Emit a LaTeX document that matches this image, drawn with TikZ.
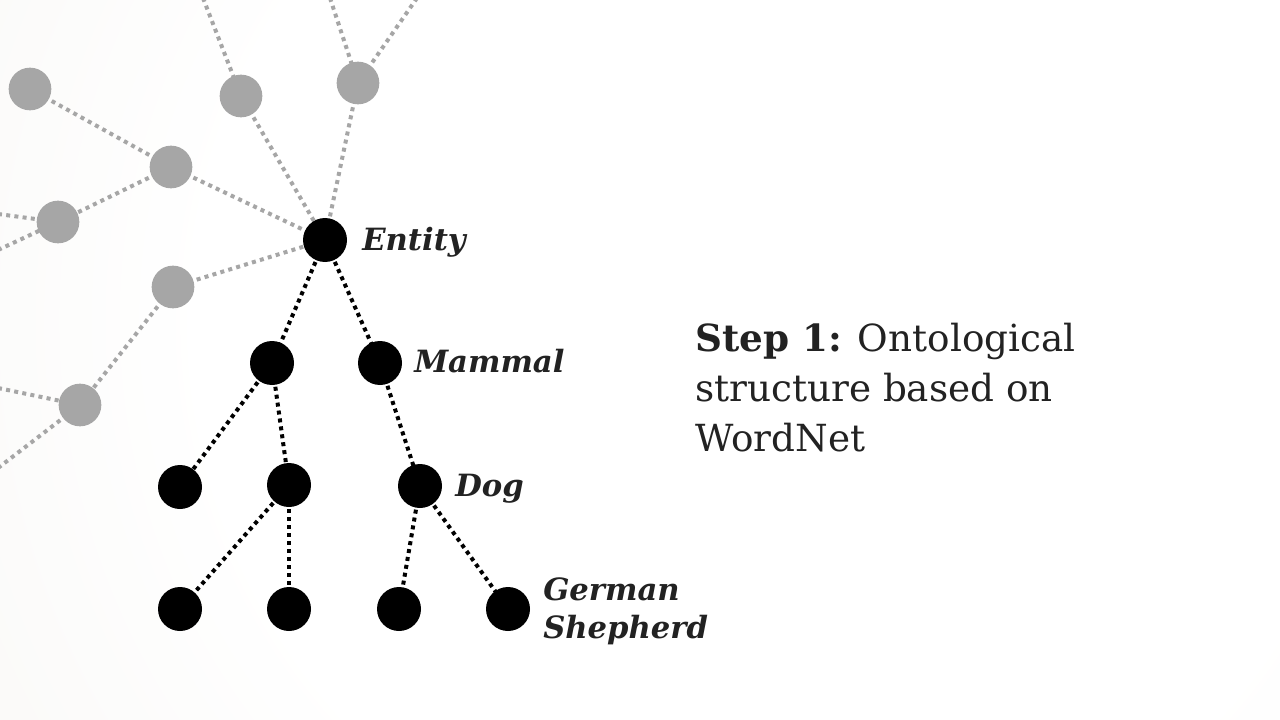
\documentclass[tikz,border=0pt]{standalone}
\usepackage{fontspec}
\setmainfont{DejaVu Serif}
\definecolor{bgout}{RGB}{236,233,227}
\definecolor{graynode}{RGB}{166,166,166}
\definecolor{txt}{RGB}{34,34,34}
\pgfdeclareradialshading{bgshade}{\pgfpoint{0bp}{0bp}}{color(0bp)=(white); color(15bp)=(white); color(50bp)=(bgout)}
\pgfdeclarelayer{bglayer}
\pgfdeclarelayer{edgelayer}
\pgfsetlayers{bglayer,edgelayer,main}
\tikzset{
  gnode/.style={circle,fill=graynode,minimum size=32pt,inner sep=0pt},
  bnode/.style={circle,fill=black,minimum size=33pt,inner sep=0pt},
  gedge/.style={draw=graynode,line width=3pt,dash pattern=on 3pt off 3.2pt},
  bedge/.style={draw=black,line width=3pt,dash pattern=on 3pt off 3pt},
  lbl/.style={font=\fontsize{23}{28}\selectfont\bfseries\itshape,text=txt,inner sep=0pt,align=left},
}
\begin{document}
\begin{tikzpicture}[x=0.75pt,y=-0.75pt]
\useasboundingbox (0,0) rectangle (1280,720);
\begin{pgfonlayer}{bglayer}
  \begin{scope}
    \clip (0,0) rectangle (1280,720);
    \shade[shading=bgshade] (780,320) circle (950);
  \end{scope}
\end{pgfonlayer}
% gray nodes
\node[gnode] (g1) at (30,89) {};
\node[gnode] (g2) at (241,96) {};
\node[gnode] (g3) at (358,83) {};
\node[gnode] (g4) at (171,167) {};
\node[gnode] (g5) at (58,222) {};
\node[gnode] (g6) at (173,287) {};
\node[gnode] (g7) at (80,405) {};
% off-canvas ends
\coordinate (t1) at (203,-2);
\coordinate (t2) at (330,-2);
\coordinate (t3) at (417,-2);
\coordinate (l1) at (-2,214);
\coordinate (l2) at (-2,250);
\coordinate (l3) at (-2,388);
\coordinate (l4) at (-2,468);
% black nodes
\node[bnode] (e) at (325,240) {};
\node[bnode] (a) at (272,363) {};
\node[bnode] (m) at (380,363) {};
\node[bnode] (b1) at (180,487) {};
\node[bnode] (b2) at (289,485) {};
\node[bnode] (d) at (420,486) {};
\node[bnode] (c1) at (180,609) {};
\node[bnode] (c2) at (289,609) {};
\node[bnode] (c3) at (399,609) {};
\node[bnode] (c4) at (508,609) {};
\begin{pgfonlayer}{edgelayer}
  \draw[gedge] (t1) -- (g2.center);
  \draw[gedge] (t2) -- (g3.center);
  \draw[gedge] (t3) -- (g3.center);
  \draw[gedge] (g1.center) -- (g4.center);
  \draw[gedge] (g4.center) -- (g5.center);
  \draw[gedge] (g4.center) -- (e.center);
  \draw[gedge] (g2.center) -- (e.center);
  \draw[gedge] (g3.center) -- (e.center);
  \draw[gedge] (g6.center) -- (e.center);
  \draw[gedge] (g6.center) -- (g7.center);
  \draw[gedge] (l1) -- (g5.center);
  \draw[gedge] (l2) -- (g5.center);
  \draw[gedge] (l3) -- (g7.center);
  \draw[gedge] (l4) -- (g7.center);
  \draw[bedge] (e.center) -- (a.center);
  \draw[bedge] (e.center) -- (m.center);
  \draw[bedge] (a.center) -- (b1.center);
  \draw[bedge] (a.center) -- (b2.center);
  \draw[bedge] (m.center) -- (d.center);
  \draw[bedge] (b2.center) -- (c1.center);
  \draw[bedge] (b2.center) -- (c2.center);
  \draw[bedge] (d.center) -- (c3.center);
  \draw[bedge] (d.center) -- (c4.center);
\end{pgfonlayer}
% labels
\node[lbl,anchor=base west] (le) at (362,250) {Entity};
\node[lbl,anchor=base west] (lm) at (414,372) {Mammal};
\node[lbl,anchor=base west] (ld) at (455,496) {Dog};
\node[lbl,anchor=base west] (lg) at (543,600) {German};
\node[lbl,anchor=base west] (ls) at (543,638) {Shepherd};
% title text
\node[anchor=base west,align=left,text=txt,inner sep=0pt,font=\fontsize{28}{37.5}\selectfont] (step) at (695,451)
  {\textbf{Step 1:} Ontological\\structure based on\\WordNet};
\end{tikzpicture}
\end{document}
